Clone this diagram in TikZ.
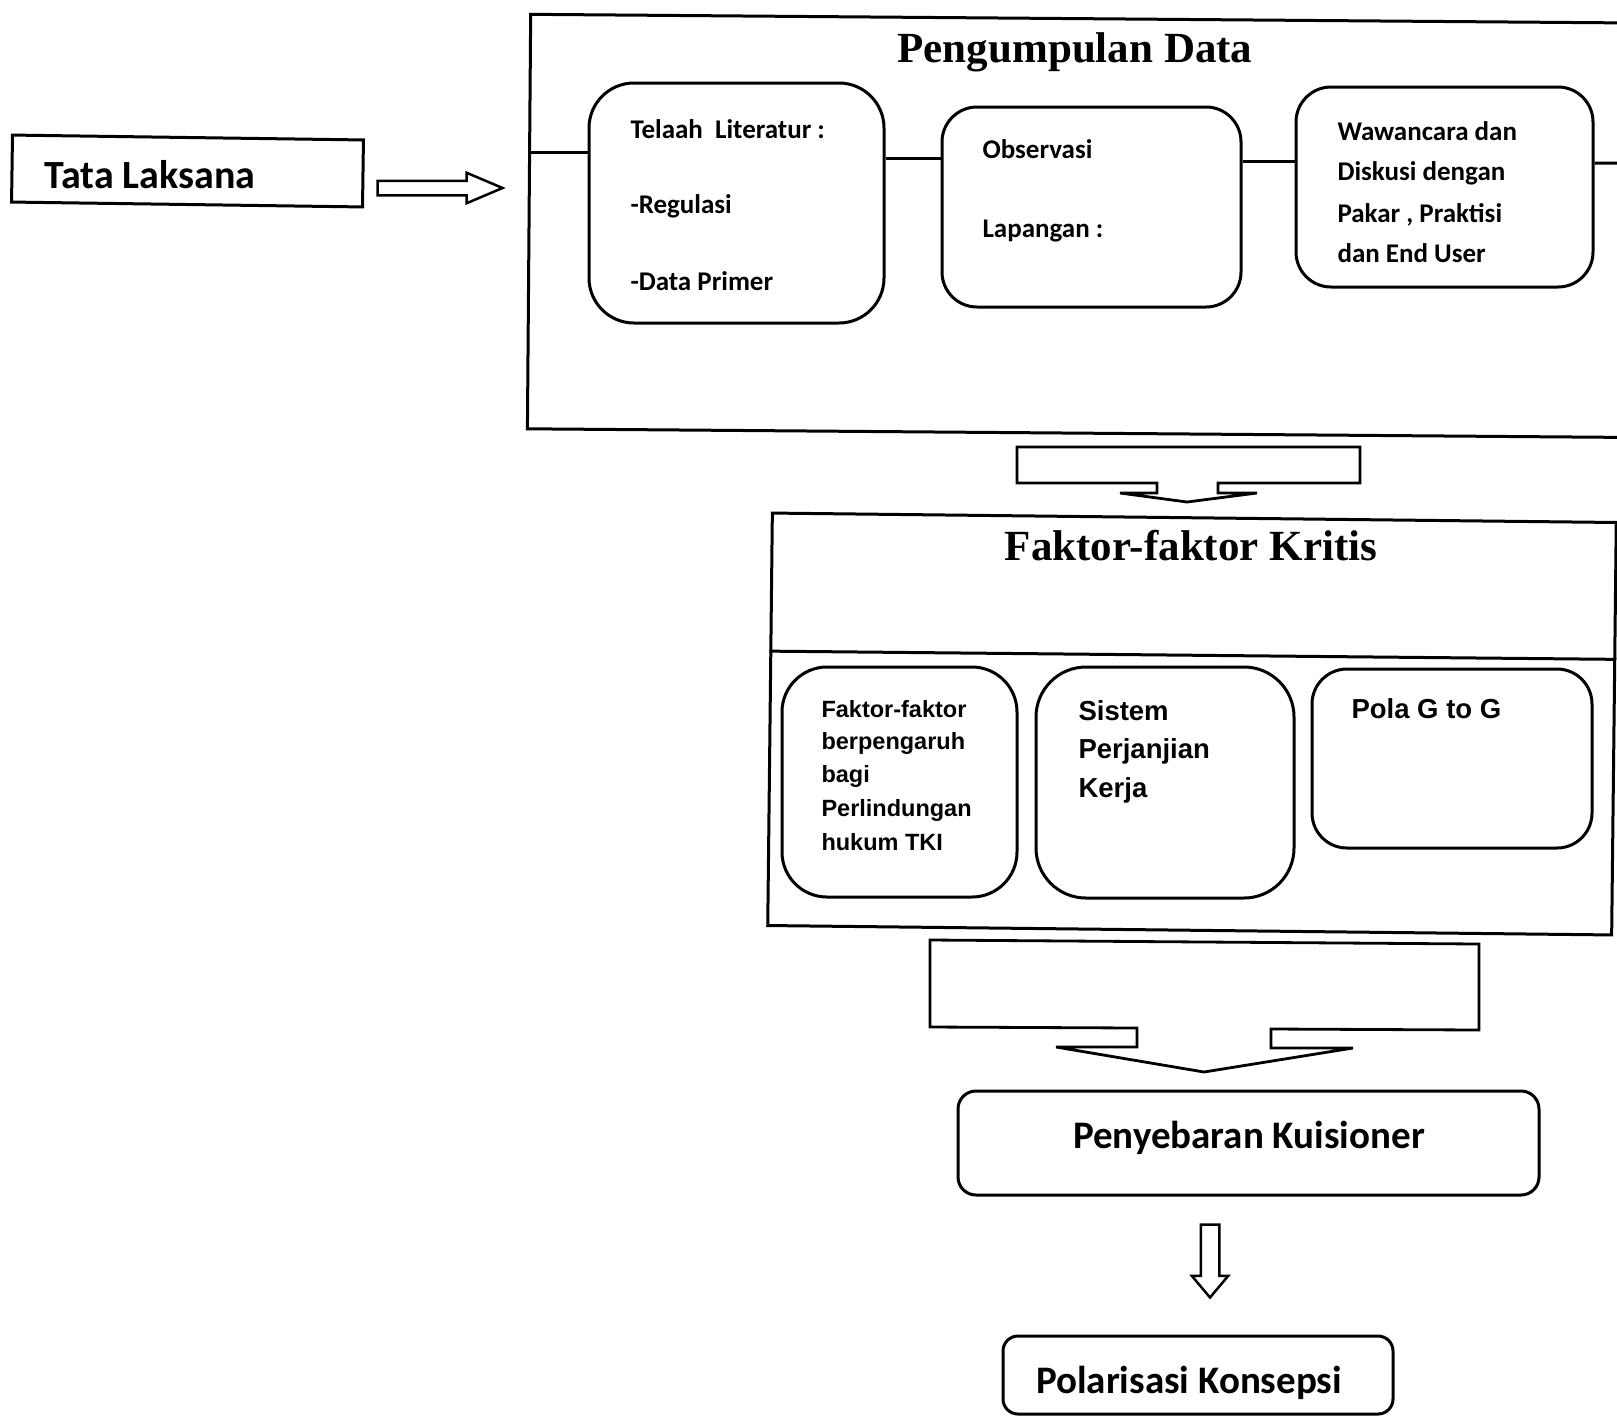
\documentclass[tikz,border=0pt]{standalone}
\usepackage{fontspec}
\newfontfamily\calfont{Carlito}
\newfontfamily\timesfont{Liberation Serif}
\newfontfamily\arialfont{Liberation Sans}
\usetikzlibrary{shapes.arrows,calc}
\begin{document}
\begin{tikzpicture}[x=1pt,y=-1pt, line width=3pt,
  bframe/.style={draw, rectangle, inner sep=0pt},
  rbox/.style={draw, rectangle, rounded corners=#1, inner sep=0pt},
  title/.style={font=\timesfont\bfseries\fontsize{43}{50}\selectfont, anchor=base, inner sep=0pt},
  ctxt/.style={font=\calfont\bfseries\fontsize{27}{32}\selectfont, anchor=base west, inner sep=0pt},
  atxtA/.style={font=\arialfont\bfseries\fontsize{23.5}{28}\selectfont, anchor=base west, inner sep=0pt},
  atxtB/.style={font=\arialfont\bfseries\fontsize{27.5}{33}\selectfont, anchor=base west, inner sep=0pt},
  bigtxt/.style={font=\calfont\bfseries\fontsize{39}{47}\selectfont, anchor=base, inner sep=0pt},
  blockarrow/.style={draw, single arrow, line width=2.5pt},
  callout/.style={draw, line width=2.8pt, line join=miter}
]
\fill[white] (0,0) rectangle (1617,1417);
\useasboundingbox (0,0) rectangle (1617,1417);

% Tata Laksana
\node[bframe, minimum width=351pt, minimum height=67pt, rotate=-0.8] (tata) at (187.5,171) {};
\node[bigtxt, font=\calfont\bfseries\fontsize{40}{48}\selectfont, anchor=base west] (tatat) at (43,188) {Tata Laksana};
\node[blockarrow, inner sep=6pt, minimum height=125pt, single arrow head extend=8pt, single arrow tip angle=46] (arr1) at (431.5,188) {};

% Pengumpulan Data
\node[bframe, minimum width=1131pt, minimum height=414.5pt, rotate=-0.45] (pd) at (1094.5,226) {};
\node[title] (pdt) at (1075,62) {Pengumpulan Data};
\node[rbox=45pt, minimum width=295pt, minimum height=240pt] (lit) at (736.5,203) {};
\node[rbox=35pt, minimum width=299pt, minimum height=200pt] (obs) at (1091.5,207) {};
\node[rbox=35pt, minimum width=297pt, minimum height=200pt] (waw) at (1444.5,187) {};
\coordinate (pdL) at ($(pd.north west)!0.335!(pd.south west)$);
\coordinate (pdR) at ($(pd.north east)!0.34!(pd.south east)$);
\draw (pdL) -- (lit.west |- pdL);
\draw (lit.east |- 0,158) -- (obs.west |- 0,158);
\draw (obs.east |- 0,161) -- (waw.west |- 0,161);
\draw (waw.east |- 0,163) -- (pdR);

\node[ctxt] (lit1) at (629,138) {Telaah\ \ Literatur :};
\node[ctxt] (lit2) at (629,213) {-Regulasi};
\node[ctxt] (lit3) at (629,290) {-Data Primer};
\node[ctxt] (obs1) at (981,158) {Observasi};
\node[ctxt] (obs2) at (981,237) {Lapangan :};
\node[ctxt] (waw1) at (1336,140) {Wawancara dan};
\node[ctxt] (waw2) at (1336,180) {Diskusi dengan};
\node[ctxt] (waw3) at (1336,222) {Pakar , Praktisi};
\node[ctxt] (waw4) at (1336,262) {dan End User};

% callout arrow 1
\draw[callout] (1017,447) -- (1360,447) -- (1360,483) -- (1218,483) -- (1218,493) -- (1257,493)
  -- (1187,502) -- (1120,493) -- (1157,493) -- (1157,483) -- (1017,483) -- cycle;

% Faktor-faktor Kritis
\node[bframe, minimum width=844pt, minimum height=412.5pt, rotate=-0.64] (fk) at (1192,724) {};
\draw ($(fk.north west)!0.336!(fk.south west)$) -- ($(fk.north east)!0.333!(fk.south east)$);
\node[title] (fkt) at (1191,560) {Faktor-faktor Kritis};
\node[rbox=45pt, minimum width=235pt, minimum height=230pt] (fa) at (899.5,782) {};
\node[rbox=50pt, minimum width=258pt, minimum height=231pt] (fb) at (1165,782.5) {};
\node[rbox=35pt, minimum width=280pt, minimum height=179pt] (fc) at (1452,758.5) {};
\node[atxtA] (fa1) at (820,717) {Faktor-faktor};
\node[atxtA] (fa2) at (820,749) {berpengaruh};
\node[atxtA] (fa3) at (820,782) {bagi};
\node[atxtA] (fa4) at (820,816) {Perlindungan};
\node[atxtA] (fa5) at (820,850) {hukum TKI};
\node[atxtB] (fb1) at (1077,720) {Sistem};
\node[atxtB] (fb2) at (1077,758) {Perjanjian};
\node[atxtB] (fb3) at (1077,797) {Kerja};
\node[atxtB] (fc1) at (1350,718) {Pola G to G};

% callout arrow 2
\draw[callout] (930,940) -- (1479,944) -- (1479,1030) -- (1271,1029) -- (1271,1048) -- (1353,1048)
  -- (1204,1072) -- (1056,1047) -- (1137,1047) -- (1137,1028) -- (930,1027) -- cycle;

% Penyebaran Kuisioner
\node[rbox=18pt, minimum width=581pt, minimum height=104pt] (pk) at (1248.5,1143) {};
\node[bigtxt] (pkt) at (1249,1148) {Penyebaran Kuisioner};

\node[blockarrow, inner sep=8pt, shape border rotate=270, minimum height=73pt, single arrow head extend=9pt, single arrow tip angle=80] (arr3) at (1210,1255.5) {};

% Polarisasi Konsepsi
\node[rbox=15pt, minimum width=390pt, minimum height=78pt] (pol) at (1198,1375) {};
\node[bigtxt] (polt) at (1189,1393) {Polarisasi Konsepsi};
\end{tikzpicture}
\end{document}
